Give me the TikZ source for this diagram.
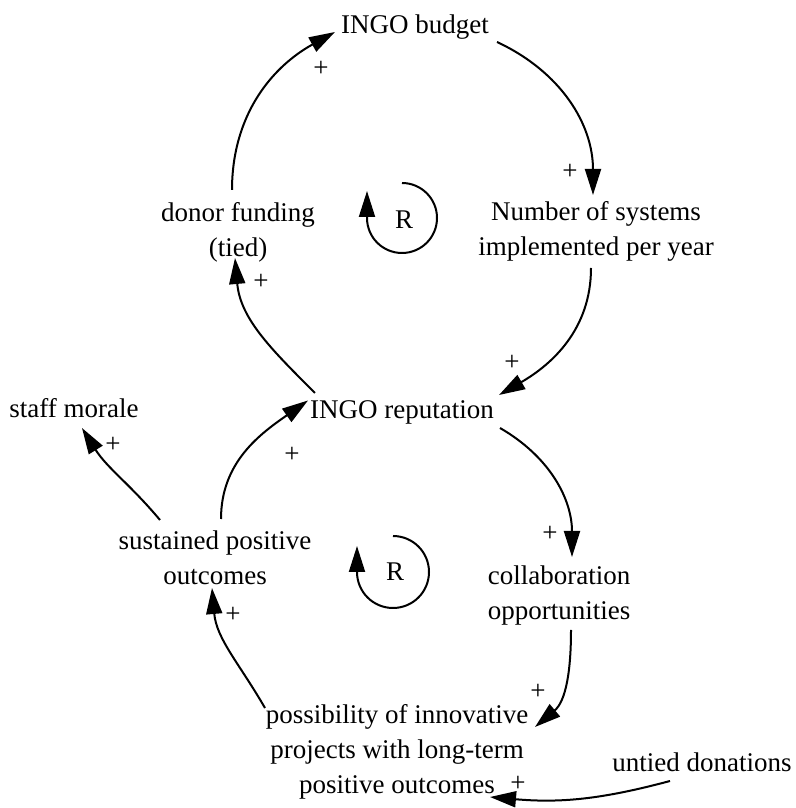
\documentclass[tikz,border=0pt]{standalone}
\usepackage{fontspec}
\setmainfont{Liberation Serif}
\usetikzlibrary{arrows.meta}
\begin{document}
\begin{tikzpicture}[x=1pt,y=1pt,
  var/.style={inner sep=0pt, align=center, font=\fontsize{27}{35}\selectfont},
  pol/.style={inner sep=0pt, font=\fontsize{27}{35}\selectfont},
  link/.style={line width=2pt, -{Triangle[length=26pt,width=16pt]}}]
\useasboundingbox (0,0) rectangle (795,808);

% variables
\node[var] (bud)   at (415,780.5) {INGO budget};
\node[var] (sys)   at (596,577)   {Number of systems\\implemented per year};
\node[var] (don)   at (238,576)   {donor funding\\(tied)};
\node[var] (rep)   at (402,395.5) {INGO reputation};
\node[var] (staff) at (74,400)    {staff morale};
\node[var] (sus)   at (215,250)   {sustained positive\\outcomes};
\node[var] (col)   at (559,212)   {collaboration\\opportunities};
\node[var] (pos)   at (397,56)    {possibility of innovative\\projects with long-term\\positive outcomes};
\node[var] (unt)   at (702,46)    {untied donations};

% loop markers
\node[pol] (r1) at (404,588) {R};
\node[pol] (r2) at (395,236) {R};
\draw[link] ([shift={(-2,37)}]r1.center) arc[start angle=90,end angle=-180,radius=35] -- ++(0,27);
\draw[link] ([shift={(-2,36)}]r2.center) arc[start angle=90,end angle=-180,radius=36] -- ++(0,26);

% causal links
\draw[link] ([shift={(-6,42)}]don.center) to[out=90,in=209] ([shift={(-80,-4.5)}]bud.center);
\draw[link] ([shift={(82,-14.5)}]bud.center) to[out=-25,in=90] ([shift={(-3,36)}]sys.center);
\draw[link] ([shift={(-5,-37)}]sys.center) to[out=-90,in=30] ([shift={(97,17.5)}]rep.center);
\draw[link] ([shift={(-87,19.5)}]rep.center) to[out=135,in=-85] ([shift={(-3,-26)}]don.center);
\draw[link] ([shift={(98,-15.5)}]rep.center) to[out=-30,in=90] ([shift={(13,39)}]col.center);
\draw[link] ([shift={(12,-34)}]col.center) to[out=-90,in=40] ([shift={(138,25)}]pos.center);
\draw[link] ([shift={(-132,44)}]pos.center) to[out=120,in=-85] ([shift={(-3,-30)}]sus.center);
\draw[link] ([shift={(6,39)}]sus.center) to[out=90,in=215] ([shift={(-94,12)}]rep.center);
\draw[link] ([shift={(-55,38)}]sus.center) to[out=130,in=-58] ([shift={(8,-20)}]staff.center);
\draw[link] ([shift={(-32,-19)}]unt.center) to[out=195,in=-5] ([shift={(93,-45)}]pos.center);

% polarities
\node[pol] (p1)  at (321,739) {+};
\node[pol] (p2)  at (570,636) {+};
\node[pol] (p3)  at (512,445) {+};
\node[pol] (p4)  at (261,526) {+};
\node[pol] (p5)  at (550,274) {+};
\node[pol] (p6)  at (538,116) {+};
\node[pol] (p7)  at (233,193) {+};
\node[pol] (p8)  at (292,353) {+};
\node[pol] (p9)  at (113,363) {+};
\node[pol] (p10) at (518,24)  {+};
\end{tikzpicture}
\end{document}
